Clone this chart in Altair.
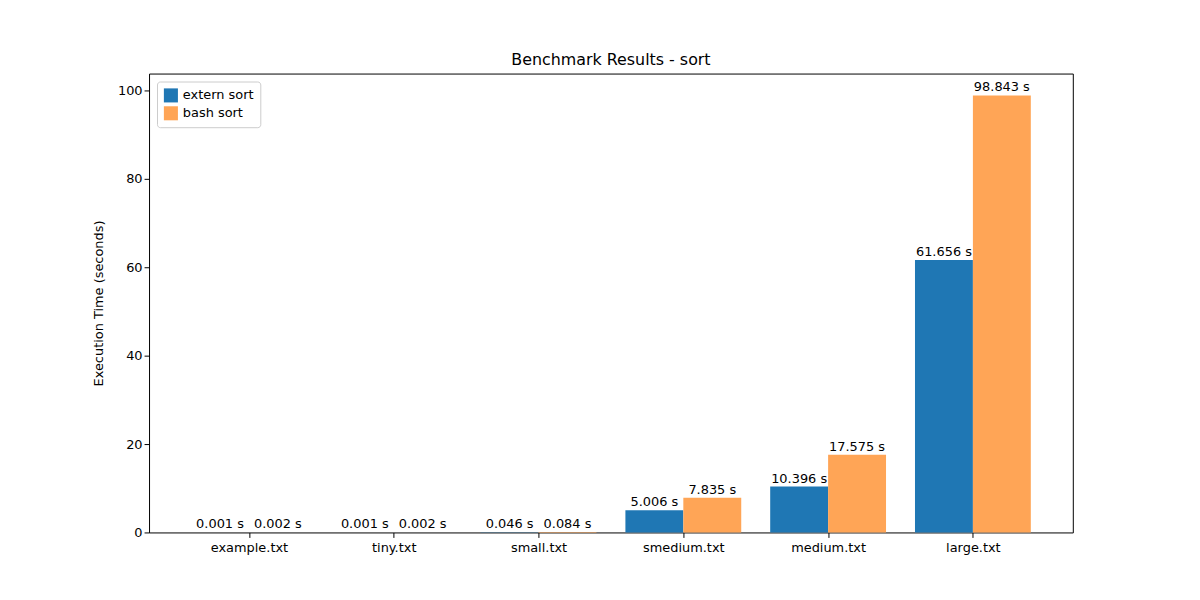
import altair as alt
import pandas as pd

files = ["example.txt", "tiny.txt", "small.txt", "smedium.txt", "medium.txt", "large.txt"]
extern_sort = [0.001, 0.001, 0.046, 5.006, 10.396, 61.656]
bash_sort = [0.002, 0.002, 0.084, 7.835, 17.575, 98.843]

rows = []
for i, f in enumerate(files):
    rows.append({"pos": i - 0.4, "pos2": i, "mid": i - 0.2, "time": extern_sort[i], "tool": "extern sort"})
    rows.append({"pos": i, "pos2": i + 0.4, "mid": i + 0.2, "time": bash_sort[i], "tool": "bash sort"})
df = pd.DataFrame(rows)
df["label"] = df["time"].map(lambda v: f"{v:.3f} s")

label_expr = "[" + ",".join(f"'{f}'" for f in files) + "][datum.value]"

x = alt.X("pos:Q", scale=alt.Scale(domain=[-0.69, 5.69], nice=False, zero=False),
          axis=alt.Axis(values=list(range(len(files))), labelExpr=label_expr, title=None, offset=0,
                        grid=False, labelFontSize=13, labelColor="black", tickColor="black",
                        domain=False, labelPadding=4))
y_scale = alt.Scale(domain=[0, 103.8], nice=False)

bars = alt.Chart(df).mark_bar().encode(
    x=x,
    x2="pos2:Q",
    y=alt.Y("time:Q", scale=y_scale,
            axis=alt.Axis(values=[0, 20, 40, 60, 80, 100], grid=False, title="Execution Time (seconds)",
                          titleFontSize=13, titleFontWeight="normal", labelFontSize=13, offset=0,
                          labelColor="black", tickColor="black", domain=False, titlePadding=12)),
    y2=alt.datum(0),
    color=alt.Color("tool:N", scale=alt.Scale(domain=["extern sort", "bash sort"], range=["#1f77b4", "#ffa556"]),
                    legend=alt.Legend(title=None, orient="top-left", labelFontSize=13, symbolType="square",
                                      symbolSize=200, strokeColor="#cccccc", padding=6, cornerRadius=3,
                                      fillColor="white", offset=8)),
)

labels = alt.Chart(df).mark_text(baseline="bottom", dy=-1, fontSize=13, color="black").encode(
    x=alt.X("mid:Q"),
    y=alt.Y("time:Q", scale=y_scale),
    text="label:N",
)

chart = alt.layer(bars, labels).properties(
    width=930, height=462,
    title=alt.TitleParams("Benchmark Results - sort", fontSize=16, fontWeight="normal", offset=6),
    autosize=alt.AutoSizeParams(type="none"),
    padding={"left": 142, "top": 64, "right": 120, "bottom": 66},
    view=alt.ViewBackground(stroke="#000000", strokeWidth=1),
).configure_view(stroke="#000000").configure(font="DejaVu Sans")

chart.save("out.html", embed_options={"renderer": "svg", "actions": False})
